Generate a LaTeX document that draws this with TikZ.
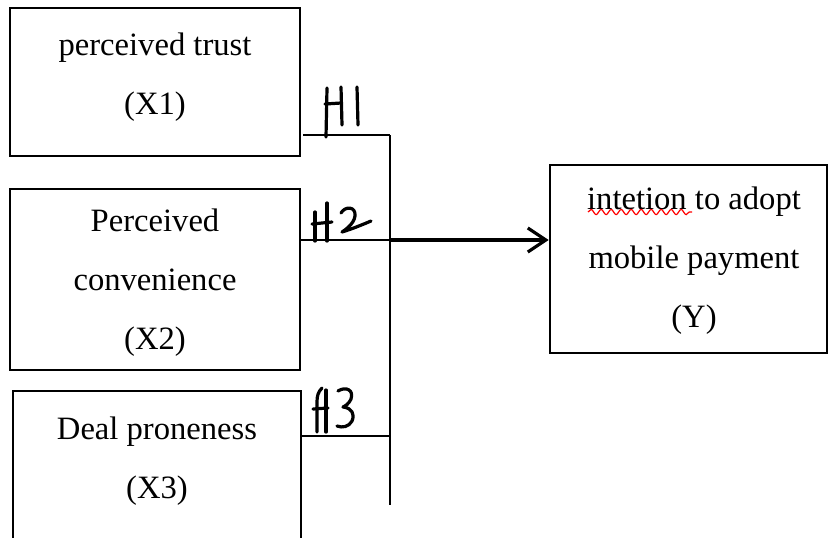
\documentclass[tikz,border=0pt]{standalone}
\usepackage{fontspec}
\setmainfont{Liberation Serif}
\usetikzlibrary{arrows.meta,decorations.pathmorphing}
\begin{document}
\begin{tikzpicture}[x=0.5pt,y=-0.5pt,
  box/.style={draw, line width=1.3pt, inner sep=0pt},
  txt/.style={align=center, inner sep=0pt, font=\fontsize{16.3}{29.5}\selectfont},
  conn/.style={line width=1.1pt},
  hand/.style={line width=1.6pt, line cap=round, line join=round}]
\useasboundingbox (0,0) rectangle (829,537);
% boxes
\node[box, minimum width=145pt, minimum height=74pt] (b1) at (155,82) {};
\node[box, minimum width=145pt, minimum height=90.5pt] (b2) at (155,279.5) {};
\node[box, minimum width=138.5pt, minimum height=94pt] (yb) at (688.5,259) {};
\coordinate (b3tl) at (13,391);
\coordinate (b3tr) at (301,391);
\coordinate (b3bl) at (13,545);
\coordinate (b3br) at (301,545);
\draw[line width=1.3pt] (b3bl) -- (b3tl) -- (b3tr) -- (b3br);
% texts
\node[txt] (t1) at (155,77) {perceived trust\\(X1)};
\node[txt] (t2) at (155,283) {Perceived\\convenience\\(X2)};
\node[txt] (t3) at (157,461) {Deal proneness\\(X3)};
\node[txt] (ty) at (694,261) {intetion to adopt\\mobile payment\\(Y)};
% red squiggle
\coordinate (sq1) at (588,212);
\coordinate (sq2) at (692,212);
\draw[red, line width=0.6pt, decorate, decoration={snake, amplitude=1.3pt, segment length=5pt}] (sq1) -- (sq2);
% connectors
\coordinate (v1) at (390,135);
\coordinate (j2) at (390,240);
\coordinate (j3) at (390,436);
\coordinate (v3) at (390,505);
\coordinate (h1s) at (303,135);
\coordinate (h2s) at (300,240);
\coordinate (h3s) at (301,436);
\draw[conn] (v1) -- (v3);
\draw[conn] (h1s) -- (v1);
\draw[conn] (h2s) -- (j2);
\draw[conn] (h3s) -- (j3);
\draw[line width=1.6pt, -{Straight Barb[length=9pt, width=12pt, line width=1.6pt]}] (j2) -- (yb.west |- j2) ;
% handwritten H1
\draw[hand] (327,88) -- (326,137);
\draw[hand] (325,104) -- (341,103);
\draw[hand] (341,87) -- (342,125);
\draw[hand] (357,87) -- (358,125);
% handwritten H2
\draw[hand] (315,212) -- (315,241);
\draw[hand] (327,203) -- (327,241);
\draw[hand] (312,224) -- (332,222);
\draw[hand] (341,213) .. controls (345,206) and (356,206) .. (355,216) .. controls (354,224) and (345,230) .. (342,232) .. controls (352,229) and (364,224) .. (371,221);
% handwritten H3
\draw[hand] (322,388) .. controls (318,392) and (317,396) .. (317,402) -- (317,432);
\draw[hand] (326,390) -- (326,432);
\draw[hand] (313,409) -- (328,408);
\draw[hand] (338,391) .. controls (346,386) and (354,390) .. (351,399) .. controls (349,404) and (345,406) .. (343,407) .. controls (352,408) and (355,414) .. (352,421) .. controls (349,427) and (342,428) .. (337,426);
\end{tikzpicture}
\end{document}
